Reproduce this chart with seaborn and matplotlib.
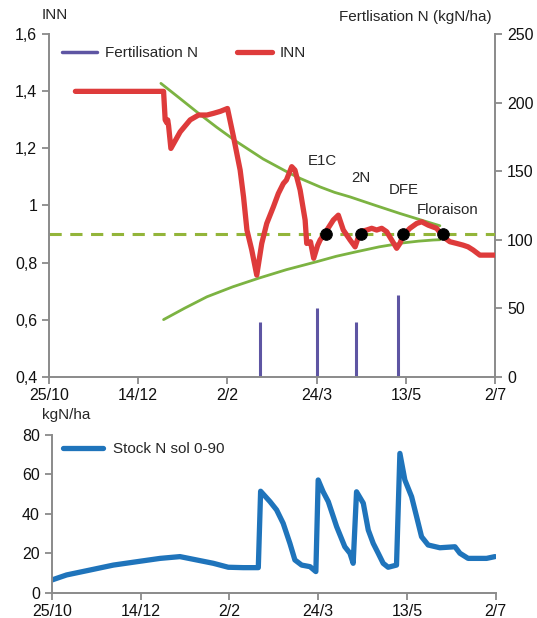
import numpy as np
import pandas as pd
import seaborn as sns
from matplotlib import pyplot as plt

# x = days since 25/10
date_ticks = [0, 50, 100, 150, 200, 250]
date_labels = ['25/10', '14/12', '2/2', '24/3', '13/5', '2/7']

inn_days = [14.8, 64.2, 65.1, 66.0, 66.5, 67.0, 68.3, 73.5, 79.1, 83.8, 88.5, 92.2, 96.0, 100.0,
            103.4, 107.1, 109.0, 110.9, 113.6, 116.4, 119.2, 122.0, 125.7, 128.5, 131.3, 133.0,
            136.0, 137.8, 140.7, 143.5, 144.4, 146.5, 148.3, 150.5, 151.9, 154.5, 159.3, 162.1,
            164.9, 168.7, 171.5, 174.3, 178.0, 180.8, 183.6, 186.4, 189.2, 192.0, 194.8, 196.6,
            198.5, 202.2, 206.0, 208.8, 212.5, 217.2, 220.9, 224.6, 228.4, 232.0, 234.8, 237.6,
            241.4, 246.0, 250.0]
inn_vals = [1.40, 1.40, 1.30, 1.29, 1.30, 1.28, 1.20, 1.258, 1.30, 1.317, 1.317, 1.323, 1.33, 1.34,
            1.24, 1.124, 1.03, 0.914, 0.844, 0.756, 0.867, 0.937, 0.995, 1.042, 1.077, 1.089,
            1.136, 1.124, 1.054, 0.949, 0.867, 0.873, 0.815, 0.86, 0.879, 0.902, 0.949, 0.966,
            0.914, 0.879, 0.855, 0.908, 0.914, 0.92, 0.914, 0.92, 0.908, 0.879, 0.85, 0.867,
            0.896, 0.92, 0.937, 0.943, 0.931, 0.92, 0.89, 0.873, 0.867, 0.861, 0.855, 0.844,
            0.826, 0.826, 0.826]

upper_days = [62.7, 73.0, 83.8, 94.0, 105.3, 120.0, 135.1, 140.7, 151.9, 160.0, 168.7, 183.0,
              196.6, 208.0, 215.3, 219.0]
upper_vals = [1.428, 1.377, 1.323, 1.274, 1.223, 1.163, 1.112, 1.095, 1.065, 1.046, 1.030, 1.000,
              0.972, 0.950, 0.936, 0.929]

lower_days = [64.2, 76.0, 88.5, 103.0, 117.4, 133.0, 150.0, 161.0, 172.4, 185.0, 198.5, 207.0, 215.3, 219.0]
lower_vals = [0.60, 0.64, 0.68, 0.715, 0.745, 0.775, 0.803, 0.822, 0.838, 0.855, 0.869, 0.875, 0.879, 0.88]

inn_target = 0.9

stage_names = ['E1C', '2N', 'DFE', 'Floraison']
stage_days = [155.0, 174.6, 198.5, 220.5]

fert_days = [118.3, 150.0, 171.8, 195.7]
fert_kg = [40, 50, 40, 60]

stock_days = [0, 8.4, 21.6, 34.7, 47.8, 61, 72.2, 81.6, 91, 99.4, 107.8, 116.3, 117.6, 122.9, 126.6,
              130.3, 134.1, 136.9, 140.7, 145.4, 148.7, 150, 152.8, 155.7, 160.4, 165, 167.9, 169.7,
              171.6, 175.4, 178.2, 181, 183.8, 186.6, 189.4, 194.1, 196, 198.8, 202.6, 205.4, 208.2,
              211.9, 218.5, 227, 229.8, 234.4, 244.8, 249.5]
stock_vals = [6.4, 9.0, 11.5, 14, 15.7, 17.4, 18.3, 16.6, 14.9, 12.9, 12.7, 12.7, 51.5, 46.2, 42,
              35.2, 25, 16.6, 14, 13.2, 10.7, 57.2, 51.2, 46.2, 33.5, 23.3, 20, 14.9,
              51.2, 45.4, 31.8, 25, 20, 14.9, 12.9, 14, 70.7, 57.2, 48.7, 38.6, 28.4,
              24.2, 22.8, 23.3, 20, 17.4, 17.4, 18.3]

sns.set_style('ticks')
plt.rcParams['font.family'] = ['Liberation Sans', 'DejaVu Sans']
plt.rcParams['axes.edgecolor'] = '#8a8a8a'
plt.rcParams['xtick.color'] = '#8a8a8a'
plt.rcParams['ytick.color'] = '#8a8a8a'
plt.rcParams['xtick.labelcolor'] = '#111111'
plt.rcParams['ytick.labelcolor'] = '#111111'

red = '#de3b3b'
green = '#7cb342'
dash_green = '#93b53a'
purple = '#5e55a3'
blue = '#1f74bb'

fig = plt.figure(figsize=(5.37, 6.18), dpi=100)
ax = fig.add_axes([0.0912, 0.3905, 0.831, 0.554])
ax2 = ax.twinx()

inn_df = pd.DataFrame({'day': inn_days, 'INN': inn_vals})
up_df = pd.DataFrame({'day': upper_days, 'val': upper_vals})
low_df = pd.DataFrame({'day': lower_days, 'val': lower_vals})

ax2.vlines(fert_days, 0, fert_kg, color=purple, lw=2.2)
ax.axhline(inn_target, color=dash_green, lw=2.2, ls=(0, (4, 2.8)), zorder=2)
sns.lineplot(data=up_df, x='day', y='val', ax=ax, color=green, lw=2.0, estimator=None, zorder=3)
sns.lineplot(data=low_df, x='day', y='val', ax=ax, color=green, lw=2.0, estimator=None, zorder=3)
sns.lineplot(data=inn_df, x='day', y='INN', ax=ax, color=red, lw=3.8, estimator=None, zorder=4)
sns.scatterplot(x=stage_days, y=[inn_target] * len(stage_days), ax=ax, color='black', s=70,
                edgecolor='black', zorder=6)

label_pos = [(144.8, 1.157), (169.6, 1.098), (190.6, 1.056), (206.3, 0.984)]
for name, (lx, ly) in zip(stage_names, label_pos):
    ax.text(lx, ly, name, fontsize=10.8, ha='left', va='center')

ax.set_zorder(ax2.get_zorder() + 1)
ax.patch.set_visible(False)

ax.set_xlim(0, 250)
ax.set_ylim(0.4, 1.6)
ax2.set_ylim(0, 250)
ax.set_xticks(date_ticks)
ax.set_xticklabels(date_labels)
ax.set_yticks(np.arange(0.4, 1.61, 0.2))
ax.set_yticklabels(['0,4', '0,6', '0,8', '1', '1,2', '1,4', '1,6'])
ax2.set_yticks([0, 50, 100, 150, 200, 250])
ax.set_xlabel('')
ax.set_ylabel('')
ax2.set_ylabel('')
for a in (ax, ax2):
    a.tick_params(labelsize=11.5, length=5, width=1.3)
    a.spines['top'].set_visible(False)
    for s in a.spines.values():
        s.set_linewidth(1.4)
ax.spines['right'].set_visible(False)
ax2.spines['left'].set_visible(False)
ax2.spines['bottom'].set_visible(False)

handles = [plt.Line2D([], [], color=purple, lw=2.5), plt.Line2D([], [], color=red, lw=3.8)]
fig.legend(handles, ['Fertilisation N', 'INN'], loc='center left', bbox_to_anchor=(0.115, 1 - 53 / 618),
           ncol=2, frameon=False, fontsize=11, handlelength=2.3, handletextpad=0.5,
           columnspacing=2.6, borderpad=0, borderaxespad=0)

fig.text(42 / 537, 1 - 15 / 618, 'INN', fontsize=11, va='center', ha='left')
fig.text(492 / 537, 1 - 17 / 618, 'Fertlisation N (kgN/ha)', fontsize=11, va='center', ha='right')

# soil stock
bx = fig.add_axes([0.0963, 0.041, 0.827, 0.255])
stock_df = pd.DataFrame({'day': stock_days, 'stock': stock_vals})
sns.lineplot(data=stock_df, x='day', y='stock', ax=bx, color=blue, lw=3.8, estimator=None)
bx.set_xlim(0, 250)
bx.set_ylim(0, 80)
bx.set_xticks(date_ticks)
bx.set_xticklabels(date_labels)
bx.set_yticks([0, 20, 40, 60, 80])
bx.set_xlabel('')
bx.set_ylabel('')
bx.tick_params(labelsize=11.5, length=5, width=1.3)
sns.despine(ax=bx)
for s in bx.spines.values():
    s.set_linewidth(1.4)
bx.legend([plt.Line2D([], [], color=blue, lw=3.8)], ['Stock N sol 0-90'], loc='center left',
          bbox_to_anchor=(0.025, 0.91), frameon=False, fontsize=11, handlelength=2.6,
          handletextpad=0.7, borderpad=0, borderaxespad=0)
fig.text(42 / 537, 1 - 415 / 618, 'kgN/ha', fontsize=11, va='center', ha='left')

fig.savefig('out.png', dpi=100)
